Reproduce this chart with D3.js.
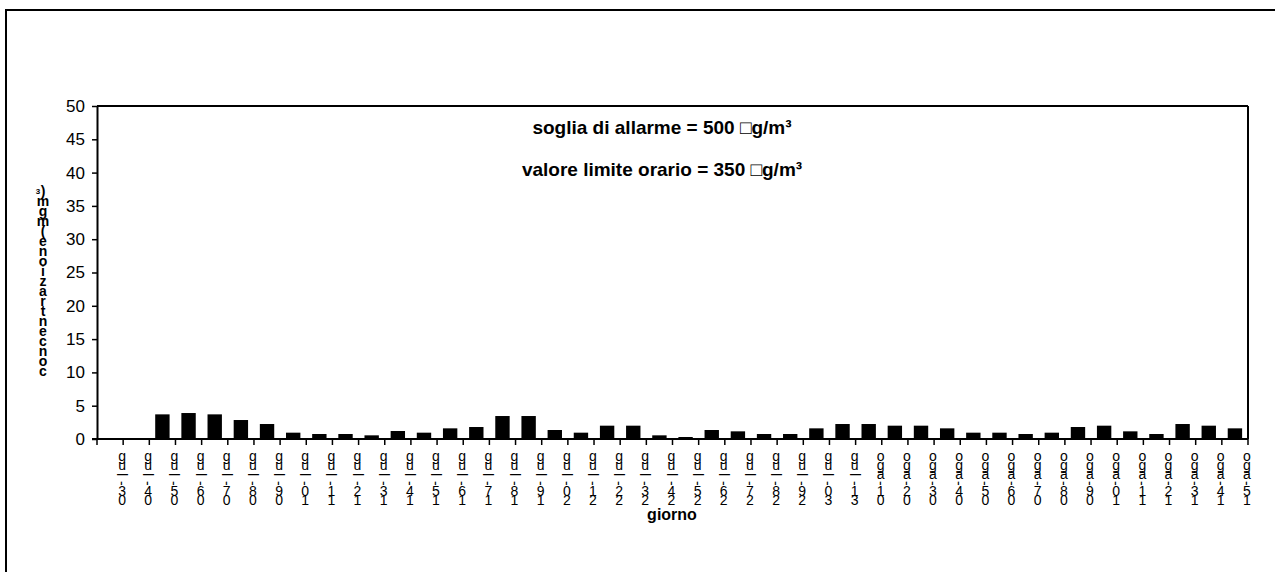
<!DOCTYPE html>
<html>
<head>
<meta charset="utf-8">
<script src="https://cdn.jsdelivr.net/npm/d3@7"></script>
<style>
    body { margin: 0; background: #fff; }
    svg { display: block; font-family: "Liberation Sans", Arial, sans-serif; }
</style>
</head>
<body>
<div id="chart"></div>
<script>
// days (Excel labels, dd-mmm)
var days = ["03-lug", "04-lug", "05-lug", "06-lug", "07-lug", "08-lug", "09-lug", "10-lug",
    "11-lug", "12-lug", "13-lug", "14-lug", "15-lug", "16-lug", "17-lug", "18-lug", "19-lug",
    "20-lug", "21-lug", "22-lug", "23-lug", "24-lug", "25-lug", "26-lug", "27-lug", "28-lug",
    "29-lug", "30-lug", "31-lug", "01-ago", "02-ago", "03-ago", "04-ago", "05-ago", "06-ago",
    "07-ago", "08-ago", "09-ago", "10-ago", "11-ago", "12-ago", "13-ago", "14-ago", "15-ago"];

// daily concentration values (null = no data)
var values = [null, null, 3.7, 3.9, 3.7, 2.85, 2.25, 0.95, 0.75, 0.75, 0.55, 1.2, 0.95, 1.6,
    1.8, 3.45, 3.45, 1.35, 0.95, 2.0, 2.0, 0.55, 0.3, 1.35, 1.15, 0.75, 0.75, 1.6, 2.25, 2.25,
    2.0, 2.0, 1.6, 0.95, 0.95, 0.75, 0.95, 1.8, 2.0, 1.15, 0.75, 2.25, 2.0, 1.6];

var yTicks = [0, 5, 10, 15, 20, 25, 30, 35, 40, 45, 50];
// y title glyphs as Excel stacks them (bottom to top)
var yTitle = ["c", "o", "n", "c", "e", "n", "t", "r", "a", "z", "i", "o", "n", "e", "(", "m", "g", "m", ")"];
var xTitle = "giorno";
var notes = ["soglia di allarme = 500 \u25A1g/m\u00B3", "valore limite orario = 350 \u25A1g/m\u00B3"];

var W = 1275, H = 572;
var margin = {top: 106, right: 27, bottom: 133, left: 97};
var width = W - margin.left - margin.right,
    height = H - margin.top - margin.bottom;

var svg = d3.select("#chart")
        .append("svg")
        .attr("width", W)
        .attr("height", H);

// outer chart border
svg.append("rect")
        .attr("x", 6)
        .attr("y", 10)
        .attr("width", W + 10)
        .attr("height", H + 10)
        .attr("fill", "none")
        .attr("stroke", "#000")
        .attr("stroke-width", 2);

var g = svg.append("g")
        .attr("transform", "translate(" + margin.left + "," + margin.top + ")");

var x = d3.scaleBand()
        .domain(days)
        .range([0, width])
        .paddingInner(0.45)
        .paddingOuter(0.225);

var y = d3.scaleLinear()
        .domain([0, 50])
        .range([height, 0]);

// bars
g.selectAll("rect.bar")
        .data(days.map(function (d, i) { return {day: d, v: values[i]}; })
            .filter(function (d) { return d.v != null; }))
        .enter()
        .append("rect")
        .attr("class", "bar")
        .attr("x", function (d) { return x(d.day); })
        .attr("y", function (d) { return y(d.v); })
        .attr("width", x.bandwidth())
        .attr("height", function (d) { return height - y(d.v); })
        .attr("fill", "#000");

// y axis
var yAxis = g.append("g")
        .call(d3.axisLeft(y).tickValues(yTicks).tickSize(5).tickPadding(7).tickSizeOuter(0));
yAxis.select(".domain").attr("stroke-width", 2);
yAxis.selectAll(".tick line").attr("stroke-width", 1.5);
yAxis.selectAll("text")
        .attr("font-size", "17px")
        .attr("fill", "#000")
        .attr("font-family", "Liberation Sans, Arial, sans-serif");

// top and right frame
g.append("line")
        .attr("x1", 0).attr("x2", width)
        .attr("y1", y(50)).attr("y2", y(50))
        .attr("stroke", "#000").attr("stroke-width", 2);
g.append("line")
        .attr("x1", width).attr("x2", width)
        .attr("y1", y(50)).attr("y2", y(0))
        .attr("stroke", "#000").attr("stroke-width", 2);

// x axis line + ticks between categories
g.append("line")
        .attr("x1", -5).attr("x2", width)
        .attr("y1", height).attr("y2", height)
        .attr("stroke", "#000").attr("stroke-width", 2);

var step = x.step();
var tickPos = days.map(function (d) { return x(d) - step * x.paddingInner() / 2; });
tickPos.push(width);
g.selectAll("line.xtick")
        .data(tickPos)
        .enter()
        .append("line")
        .attr("class", "xtick")
        .attr("x1", function (d) { return d; })
        .attr("x2", function (d) { return d; })
        .attr("y1", height)
        .attr("y2", height + 6)
        .attr("stroke", "#000")
        .attr("stroke-width", 1.5);

// x labels: characters stacked, read bottom to top ("l" and "-" lie on their side)
var lab = g.selectAll("g.xlab")
        .data(days)
        .enter()
        .append("g")
        .attr("class", "xlab")
        .attr("transform", function (d) {
            return "translate(" + (x(d) + x.bandwidth() / 2 + 12) + "," + (height + 22) + ")";
        });
lab.selectAll("text")
        .data(function (d) { return d.split("").reverse(); })
        .enter()
        .append("text")
        .attr("font-size", "14px")
        .attr("fill", "#000")
        .attr("text-anchor", "middle")
        .attr("transform", function (c, i) {
            var t = "translate(0," + (i * 8.8) + ")";
            if (c === "l" || c === "-") t += " translate(0,-4) rotate(90)";
            return t;
        })
        .attr("dy", function (c) { return (c === "l" || c === "-") ? "0.35em" : null; })
        .text(function (c) { return c; });

// x title
g.append("text")
        .attr("x", 575)
        .attr("y", height + 81)
        .attr("text-anchor", "middle")
        .attr("font-size", "16px")
        .attr("font-weight", "bold")
        .text(xTitle);

// y title: stacked characters, read bottom to top
var yt = svg.append("text")
        .attr("transform", "translate(43,196)")
        .attr("font-size", "14px")
        .attr("font-weight", "bold")
        .attr("text-anchor", "middle");
yt.selectAll("tspan")
        .data(yTitle.slice().reverse())
        .enter()
        .append("tspan")
        .attr("x", 0)
        .attr("y", function (c, i) { return i * 10; })
        .text(function (c) { return c; });
svg.append("text")
        .attr("x", 38)
        .attr("y", 194)
        .attr("font-size", "8px")
        .attr("font-weight", "bold")
        .attr("text-anchor", "middle")
        .text("3");

// threshold notes
g.selectAll("text.note")
        .data(notes)
        .enter()
        .append("text")
        .attr("class", "note")
        .attr("x", 565)
        .attr("y", function (d, i) { return 28 + i * 42; })
        .attr("text-anchor", "middle")
        .attr("font-size", "19px")
        .attr("font-weight", "bold")
        .text(function (d) { return d; });
</script>
</body>
</html>
